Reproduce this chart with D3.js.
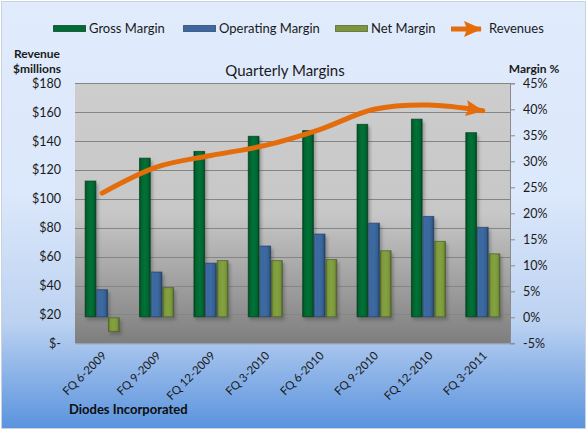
<!DOCTYPE html>
<html>
<head>
<meta charset="utf-8">
<script src="https://cdn.jsdelivr.net/npm/d3@7"></script>
<style>
body { margin: 0; padding: 0; background: #fff; }
text { font-family: Lato, "Open Sans", sans-serif; }
</style>
</head>
<body>
<div id="chart"></div>
<script>
// data
var quarters = ["FQ 6-2009", "FQ 9-2009", "FQ 12-2009", "FQ 3-2010", "FQ 6-2010", "FQ 9-2010", "FQ 12-2010", "FQ 3-2011"];
var grossMargin = [26.3, 30.7, 32.0, 34.9, 36.0, 37.2, 38.2, 35.6];
var operatingMargin = [5.4, 8.8, 10.5, 13.8, 16.1, 18.2, 19.5, 17.4];
var netMargin = [-2.8, 5.8, 11.0, 11.0, 11.2, 12.9, 14.7, 12.3];
var revenues = [104, 122, 130, 137, 148, 162, 165, 161];
var revenueTicks = [0, 20, 40, 60, 80, 100, 120, 140, 160, 180];
var marginTicks = [-5, 0, 5, 10, 15, 20, 25, 30, 35, 40, 45];
var seriesNames = ["Gross Margin", "Operating Margin", "Net Margin"];

var width = 587, height = 430;
var plotLeft = 75, plotRight = 510, plotTop = 83.3, plotBottom = 343.3;

var svg = d3.select("#chart").append("svg")
	.attr("width", width)
	.attr("height", height);

var defs = svg.append("defs");

function vGrad(id, stops) {
	var g = defs.append("linearGradient").attr("id", id)
		.attr("x1", 0).attr("y1", 0).attr("x2", 0).attr("y2", 1);
	stops.forEach(function(s) {
		g.append("stop").attr("offset", s[0]).attr("stop-color", s[1]);
	});
}
function hGrad(id, stops) {
	var g = defs.append("linearGradient").attr("id", id)
		.attr("x1", 0).attr("y1", 0).attr("x2", 1).attr("y2", 0);
	stops.forEach(function(s) {
		g.append("stop").attr("offset", s[0]).attr("stop-color", s[1]);
	});
}

vGrad("bg", [[0, "#e0ebfc"], [0.45, "#dce8fb"], [0.75, "#bcd2f1"], [1, "#5a93de"]]);
vGrad("plotbg", [[0, "#cdcdcd"], [0.5, "#c7c7c7"], [1, "#7e7e7e"]]);
hGrad("g0", [[0, "#004a22"], [0.18, "#00662f"], [0.5, "#007238"], [0.82, "#00662f"], [1, "#004a22"]]);
hGrad("g1", [[0, "#4a78b0"], [0.18, "#3b679f"], [0.5, "#3d6aa3"], [0.82, "#34608f"], [1, "#243f66"]]);
hGrad("g2", [[0, "#5c7428"], [0.18, "#7d9a3c"], [0.5, "#84a241"], [0.82, "#7a963a"], [1, "#54692a"]]);

var blur = defs.append("filter").attr("id", "shadow")
	.attr("x", "-50%").attr("y", "-50%").attr("width", "200%").attr("height", "200%");
blur.append("feGaussianBlur").attr("stdDeviation", 1.5);

defs.append("marker")
	.attr("id", "arrow")
	.attr("markerUnits", "userSpaceOnUse")
	.attr("viewBox", "0 0 18 16")
	.attr("refX", 17).attr("refY", 8)
	.attr("markerWidth", 18).attr("markerHeight", 16)
	.attr("orient", "auto")
	.append("path")
	.attr("d", "M0,0 L18,8 L0,16 L3,8 Z")
	.attr("fill", "#e46c0a");

// chart background
svg.append("rect")
	.attr("x", 1.5).attr("y", 1.5)
	.attr("width", width - 3).attr("height", height - 3)
	.attr("fill", "url(#bg)")
	.attr("stroke", "#c9d3df");

// scales
var x = d3.scaleBand().domain(quarters).range([plotLeft, plotRight]);
var xs = d3.scaleBand().domain(seriesNames).range([0, 35]);
var groupOffset = (x.bandwidth() - 35) / 2;
var yL = d3.scaleLinear().domain([0, 180]).range([plotBottom, plotTop]);
var yR = d3.scaleLinear().domain([-5, 45]).range([plotBottom, plotTop]);

// plot area
svg.append("rect")
	.attr("x", plotLeft).attr("y", plotTop)
	.attr("width", plotRight - plotLeft).attr("height", plotBottom - plotTop)
	.attr("fill", "url(#plotbg)");

svg.append("g")
	.selectAll("line")
	.data(revenueTicks.slice(1))
	.enter().append("line")
	.attr("x1", plotLeft).attr("x2", plotRight)
	.attr("y1", function(d) { return Math.round(yL(d)) + 0.5; })
	.attr("y2", function(d) { return Math.round(yL(d)) + 0.5; })
	.attr("stroke", "#858585")
	.attr("stroke-width", 1);

// left axis
var axisL = svg.append("g")
	.attr("transform", "translate(" + plotLeft + ",0)")
	.call(d3.axisLeft(yL).tickValues(revenueTicks).tickSize(0).tickPadding(14)
		.tickFormat(function(d) { return d === 0 ? "$-" : "$" + d; }));
axisL.select(".domain").remove();
axisL.selectAll("text").attr("font-size", 12.5).attr("fill", "#1a1a1a")
	.style("font-family", "Lato, sans-serif");

// right axis
var axisR = svg.append("g")
	.attr("transform", "translate(" + plotRight + ",0)")
	.call(d3.axisRight(yR).tickValues(marginTicks).tickSize(5).tickPadding(8)
		.tickFormat(function(d) { return d + "%"; }));
axisR.select(".domain").attr("stroke", "#8a8a8a");
axisR.selectAll("line").attr("stroke", "#8a8a8a");
axisR.selectAll("text").attr("font-size", 12.5).attr("fill", "#1a1a1a")
	.style("font-family", "Lato, sans-serif");

// bottom axis
var axisB = svg.append("g")
	.attr("transform", "translate(0," + plotBottom + ")")
	.call(d3.axisBottom(x).tickSize(0).tickPadding(0));
axisB.select(".domain").attr("stroke", "#9a9a9a");
axisB.selectAll("text")
	.attr("font-size", 11.5)
	.attr("fill", "#1a1a1a")
	.attr("text-anchor", "end")
	.attr("dy", 0)
	.attr("transform", "translate(5,13) rotate(-45)")
	.style("font-family", "Lato, sans-serif");

// bars
var barData = [];
quarters.forEach(function(q, i) {
	[grossMargin, operatingMargin, netMargin].forEach(function(arr, k) {
		barData.push({ q: q, s: seriesNames[k], k: k, v: arr[i] });
	});
});

function barX(d) { return x(d.q) + groupOffset + xs(d.s); }
function barY(d) { return Math.min(yR(d.v), yR(0)); }
function barH(d) { return Math.abs(yR(d.v) - yR(0)); }

svg.append("g")
	.selectAll("rect")
	.data(barData)
	.enter().append("rect")
	.attr("x", function(d) { return barX(d) + 2; })
	.attr("y", function(d) { return barY(d) + 3; })
	.attr("width", xs.bandwidth())
	.attr("height", barH)
	.attr("fill", "#3c3c3c")
	.attr("opacity", 0.35)
	.attr("filter", "url(#shadow)");

var edge = ["#003a1b", "#223f66", "#4b5e22"];
svg.append("g")
	.selectAll("rect")
	.data(barData)
	.enter().append("rect")
	.attr("x", function(d) { return barX(d) + 0.5; })
	.attr("y", function(d) { return barY(d) + 0.5; })
	.attr("width", xs.bandwidth() - 1)
	.attr("height", function(d) { return barH(d) - 1; })
	.attr("fill", function(d) { return "url(#g" + d.k + ")"; })
	.attr("stroke", function(d) { return edge[d.k]; })
	.attr("stroke-opacity", 0.7)
	.attr("stroke-width", 1);

// revenue line
var line = d3.line()
	.x(function(d, i) { return x(quarters[i]) + x.bandwidth() / 2; })
	.y(function(d) { return yL(d); })
	.curve(d3.curveCatmullRom.alpha(0.5));

svg.append("path")
	.datum(revenues)
	.attr("d", line)
	.attr("fill", "none")
	.attr("stroke", "#e46c0a")
	.attr("stroke-width", 5)
	.attr("stroke-linecap", "round")
	.attr("marker-end", "url(#arrow)");

// titles
svg.append("text")
	.attr("x", 285).attr("y", 76)
	.attr("text-anchor", "middle")
	.attr("font-size", 15)
	.attr("fill", "#1a1a1a")
	.text("Quarterly Margins");

svg.append("text")
	.attr("x", 37).attr("y", 58)
	.attr("text-anchor", "middle")
	.attr("font-size", 12)
	.attr("font-weight", "bold")
	.attr("fill", "#1a1a1a")
	.text("Revenue");
svg.append("text")
	.attr("x", 37).attr("y", 73)
	.attr("text-anchor", "middle")
	.attr("font-size", 12)
	.attr("font-weight", "bold")
	.attr("fill", "#1a1a1a")
	.text("$millions");

svg.append("text")
	.attr("x", 534).attr("y", 73)
	.attr("text-anchor", "middle")
	.attr("font-size", 12)
	.attr("font-weight", "bold")
	.attr("fill", "#1a1a1a")
	.text("Margin %");

svg.append("text")
	.attr("x", 69).attr("y", 414)
	.attr("font-size", 13)
	.attr("font-weight", "bold")
	.attr("fill", "#0d0d0d")
	.text("Diodes Incorporated");

// legend
var legendX = [53, 183, 335];
var legend = svg.append("g");
seriesNames.forEach(function(name, k) {
	legend.append("rect")
		.attr("x", legendX[k] + 0.5).attr("y", 25.5)
		.attr("width", 32).attr("height", 6)
		.attr("fill", ["#006b34", "#3c679f", "#7b963b"][k])
		.attr("stroke", edge[k])
		.attr("stroke-opacity", 0.7);
	legend.append("text")
		.attr("x", legendX[k] + 36).attr("y", 33)
		.attr("font-size", 13)
		.attr("fill", "#1a1a1a")
		.text(name);
});
legend.append("line")
	.attr("x1", 451).attr("x2", 481)
	.attr("y1", 29).attr("y2", 29)
	.attr("stroke", "#e46c0a")
	.attr("stroke-width", 5)
	.attr("marker-end", "url(#arrow)");
legend.append("text")
	.attr("x", 489).attr("y", 33)
	.attr("font-size", 13)
	.attr("fill", "#1a1a1a")
	.text("Revenues");
</script>
</body>
</html>
